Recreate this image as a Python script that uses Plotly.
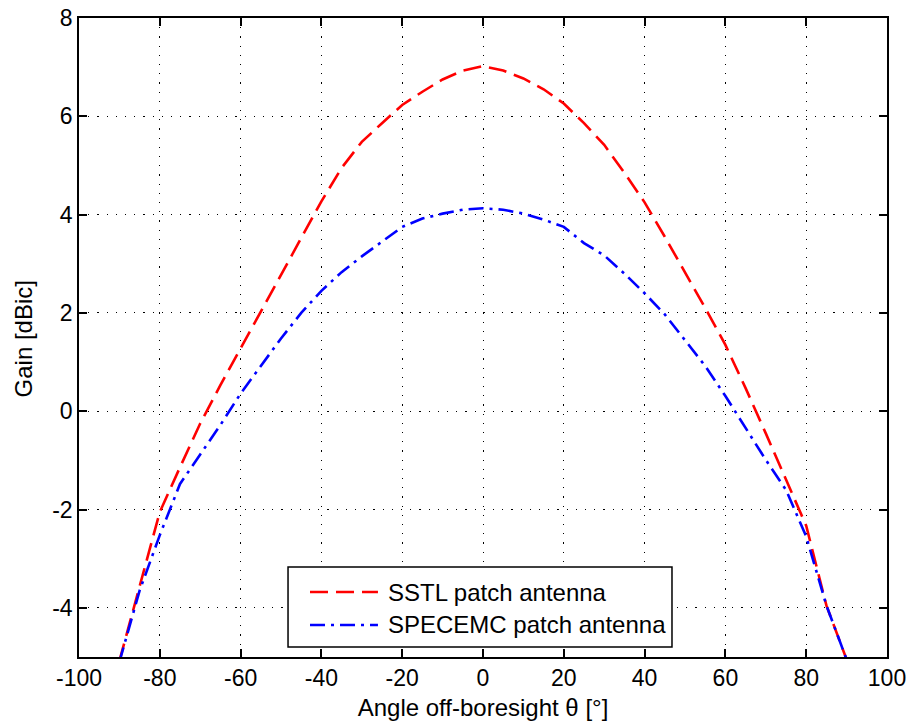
import plotly.graph_objects as go

# Data
angle_deg = [-90, -85, -80, -75, -70, -65, -60, -55, -50, -45, -40, -35, -30, -25, -20, -15, -10, -5,
             0, 5, 10, 15, 20, 25, 30, 35, 40, 45, 50, 55, 60, 65, 70, 75, 80, 85, 90]
sstl_gain = [-5.08, -3.58, -2.05, -1.14, -0.25, 0.53, 1.28, 2.0, 2.75, 3.5, 4.27, 4.95, 5.48, 5.86, 6.23,
             6.5, 6.75, 6.93, 7.02, 6.93, 6.77, 6.55, 6.26, 5.86, 5.42, 4.85, 4.25, 3.55, 2.83, 2.1,
             1.35, 0.47, -0.45, -1.39, -2.33, -3.95, -5.05]
specemc_gain = [-5.1, -3.65, -2.52, -1.48, -0.88, -0.28, 0.36, 0.92, 1.48, 2.0, 2.45, 2.83, 3.15, 3.45,
                3.75, 3.92, 4.02, 4.1, 4.13, 4.1, 4.02, 3.9, 3.75, 3.42, 3.17, 2.8, 2.4, 1.97, 1.45,
                0.92, 0.31, -0.33, -0.99, -1.6, -2.55, -3.95, -5.05]
series_names = ["SSTL patch antenna", "SPECEMC patch antenna"]
x_ticks = [-100, -80, -60, -40, -20, 0, 20, 40, 60, 80, 100]
y_ticks = [-4, -2, 0, 2, 4, 6, 8]
x_title = "Angle off-boresight θ [°]"
y_title = "Gain [dBic]"

FONT = "Liberation Sans, Arial, sans-serif"
RED = "rgb(255,0,0)"
BLUE = "rgb(0,0,255)"
RED_DASH = "18px,8px"
BLUE_DASH = "15px,6px,3px,6px"

fig = go.Figure()
fig.add_trace(go.Scatter(x=angle_deg, y=sstl_gain, mode="lines", name=series_names[0],
                         line=dict(color=RED, width=2.6, dash=RED_DASH), showlegend=False))
fig.add_trace(go.Scatter(x=angle_deg, y=specemc_gain, mode="lines", name=series_names[1],
                         line=dict(color=BLUE, width=2.6, dash=BLUE_DASH), showlegend=False))

axis_common = dict(
    showline=True, linecolor="black", linewidth=1.5, mirror="ticks",
    ticks="inside", ticklen=8, tickwidth=1.5, tickcolor="black",
    showgrid=True, gridcolor="black", gridwidth=1.2, griddash="1.2px,8px",
    zeroline=False, tickfont=dict(family=FONT, size=23, color="black"),
    ticklabeloverflow="allow",
)

fig.update_xaxes(range=[-100, 100], tickvals=x_ticks, ticktext=[str(v) for v in x_ticks],
                 title=dict(text=x_title, font=dict(family=FONT, size=24, color="black"), standoff=9),
                 **axis_common)
fig.update_yaxes(range=[-5, 8], tickvals=y_ticks, ticktext=[str(v) for v in y_ticks],
                 **axis_common)

annotations = [dict(xref="paper", yref="paper", x=-0.0693, y=0.497, xanchor="center", yanchor="middle",
                    text=y_title, textangle=-90, showarrow=False,
                    font=dict(family=FONT, size=24, color="black"))]

# Legend box drawn manually (MATLAB style, long line samples)
lx0, lx1, ly0, ly1 = 0.2587, 0.7339, 0.0157, 0.1408
shapes = [dict(type="rect", xref="paper", yref="paper", x0=lx0, x1=lx1, y0=ly0, y1=ly1,
               line=dict(color="black", width=1.5), fillcolor="white", layer="above")]
rows = [(0.1017, RED, RED_DASH, series_names[0]), (0.0501, BLUE, BLUE_DASH, series_names[1])]
for yy, col, dash, name in rows:
    shapes.append(dict(type="line", xref="paper", yref="paper", x0=0.2859, x1=0.3700, y0=yy, y1=yy,
                       line=dict(color=col, width=2.6, dash=dash), layer="above"))
    annotations.append(dict(xref="paper", yref="paper", x=0.3800, y=yy, xanchor="left", yanchor="middle",
                            text=name, showarrow=False, font=dict(family=FONT, size=24, color="black")))

fig.update_layout(
    width=908, height=724,
    margin=dict(l=79, r=21, t=18, b=67, autoexpand=False),
    paper_bgcolor="white", plot_bgcolor="white",
    shapes=shapes, annotations=annotations,
    font=dict(family=FONT, size=23, color="black"),
)

# Remove the default 8px page margin so the figure fills the window exactly
fig.write_html("out.html", config={"displayModeBar": False},
               post_script="document.body.style.margin='0';")
